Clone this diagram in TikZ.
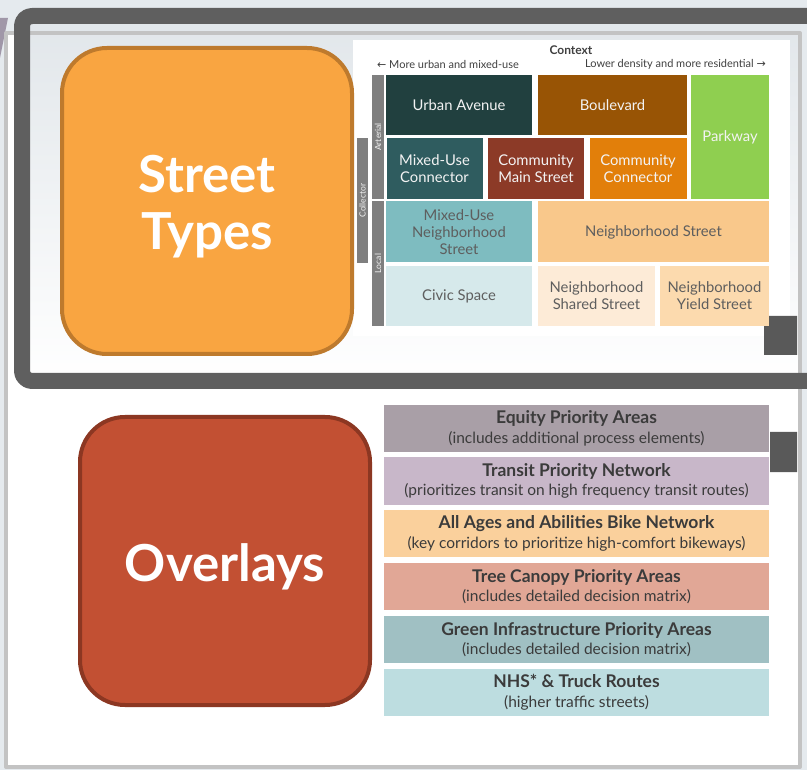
\documentclass[tikz,border=0pt]{standalone}
\usepackage{fontspec}
\setmainfont{Lato}
\newfontfamily\arrowfont{DejaVu Sans}
\usetikzlibrary{positioning}

\definecolor{bgcol}{HTML}{E5EAEE}
\definecolor{topgray}{HTML}{E1E6EA}
\definecolor{framelight}{HTML}{C3C3C3}
\definecolor{framedark}{HTML}{5F5F5F}
\definecolor{squaregray}{HTML}{595959}
\definecolor{decopurple}{HTML}{A097A8}
\definecolor{streetorange}{HTML}{F9A541}
\definecolor{streetedge}{HTML}{BE7A2D}
\definecolor{overlayred}{HTML}{C25033}
\definecolor{overlayedge}{HTML}{8C3722}
\definecolor{bargray}{HTML}{7F7F7F}
\definecolor{headtext}{HTML}{404040}
\definecolor{lighttext}{HTML}{F3F3F3}
\definecolor{darktext}{HTML}{5E5E5E}
\definecolor{overlaytext}{HTML}{3B3B3B}
\definecolor{urbancol}{HTML}{21403F}
\definecolor{boulevardcol}{HTML}{985405}
\definecolor{parkwaycol}{HTML}{8FCF50}
\definecolor{muconncol}{HTML}{2F5C5F}
\definecolor{cmaincol}{HTML}{8C3A27}
\definecolor{cconncol}{HTML}{E27F0A}
\definecolor{muneighcol}{HTML}{7EBCC0}
\definecolor{neighcol}{HTML}{F9C88B}
\definecolor{civiccol}{HTML}{D6E9EB}
\definecolor{sharedcol}{HTML}{FDEBD7}
\definecolor{yieldcol}{HTML}{FCDAAE}
\definecolor{equitycol}{HTML}{A99FA7}
\definecolor{transitcol}{HTML}{C8B7C9}
\definecolor{bikecol}{HTML}{FAD09C}
\definecolor{treecol}{HTML}{E1A796}
\definecolor{greencol}{HTML}{A0C0C3}
\definecolor{nhscol}{HTML}{BDDDE0}

\begin{document}
\begin{tikzpicture}[x=1pt, y=-1pt, line join=round,
  cell/.style={inner sep=0pt, align=center, font=\fontsize{14.8}{17}\selectfont},
  bar/.style={fill=bargray, inner sep=0pt, rotate=90, text=lighttext, font=\fontsize{8.5}{9}\selectfont},
  headline/.style={inner sep=0pt, text=headtext, font=\fontsize{11}{12}\selectfont},
  overlay/.style={minimum width=385pt, minimum height=47.5pt, inner sep=0pt, align=center, text=overlaytext, font=\fontsize{15.5}{19.5}\selectfont},
  bigbox/.style={rounded corners=45pt, line width=4pt, minimum width=290pt},
  bigtext/.style={text=white, align=center, inner sep=0pt, font=\fontsize{51}{57}\selectfont\bfseries}]
\useasboundingbox (0,0) rectangle (807,770);
\fill[bgcol] (0,0) rectangle (807,770);
\fill[decopurple] (0,18) -- (8,18) -- (0,58) -- cycle;
\fill[white] (6,33) rectangle (800,767);
\shade[top color=topgray, bottom color=white] (22,16) rectangle (800,381);
\fill[white] (353,40) rectangle (790,336);
\draw[framelight, line width=4pt] (6,33) rectangle (800,767);
\fill[squaregray] (764,316) rectangle (797,355)
  (770,432) rectangle (797,472);
\draw[framedark, line width=16pt, rounded corners=10pt] (22,16) rectangle (840,381);

% big titles
\node[bigbox, fill=streetorange, draw=streetedge, minimum height=306pt] (street) at (207,201) {};
\node[bigtext] (streettext) at (207,207) {Street\\Types};
\node[bigbox, fill=overlayred, draw=overlayedge, minimum height=288pt] (overlays) at (225,561) {};
\node[bigtext] (overlaystext) at (225,567) {Overlays};

% context header
\node[headline, font=\fontsize{12}{13}\selectfont\bfseries] (context) at (571,50) {Context};
\node[headline, anchor=west] (urban) at (377,64) {{\arrowfont ←} More urban and mixed-use};
\node[headline, anchor=east] (residential) at (766,64) {Lower density and more residential {\arrowfont →}};

% side bars
\node[bar, minimum width=124pt, minimum height=12pt] (arterial) at (378,137) {Arterial};
\node[bar, minimum width=125pt, minimum height=12pt] (local) at (378,263.5) {Local};
\node[bar, minimum width=125pt, minimum height=11pt] (collector) at (362.5,200.5) {Collector};

% street type cells
\node[cell, fill=urbancol, text=lighttext, minimum width=146pt, minimum height=60pt] (urbanave) at (459,105) {Urban Avenue};
\node[cell, fill=boulevardcol, text=lighttext, minimum width=149pt, minimum height=60pt] (boulevard) at (612.5,105) {Boulevard};
\node[cell, fill=parkwaycol, text=lighttext, minimum width=78pt, minimum height=124pt] (parkway) at (730,137) {Parkway};
\node[cell, fill=muconncol, text=lighttext, minimum width=96pt, minimum height=61pt] (muconn) at (434.5,168.5) {Mixed-Use\\Connector};
\node[cell, fill=cmaincol, text=lighttext, minimum width=96pt, minimum height=61pt] (cmain) at (536,168.5) {Community\\Main Street};
\node[cell, fill=cconncol, text=lighttext, minimum width=97pt, minimum height=61pt] (cconn) at (638,168.5) {Community\\Connector};
\node[cell, fill=muneighcol, text=darktext, minimum width=146pt, minimum height=61pt] (muneigh) at (459,232) {Mixed-Use\\Neighborhood\\Street};
\node[cell, fill=neighcol, text=darktext, minimum width=231pt, minimum height=61pt] (neigh) at (653.5,232) {Neighborhood Street};
\node[cell, fill=civiccol, text=darktext, minimum width=146pt, minimum height=60pt] (civic) at (459,296) {Civic Space};
\node[cell, fill=sharedcol, text=darktext, minimum width=117pt, minimum height=60pt] (shared) at (596.5,296) {Neighborhood\\Shared Street};
\node[cell, fill=yieldcol, text=darktext, minimum width=109pt, minimum height=60pt] (yield) at (714.5,296) {Neighborhood\\Yield Street};

% overlay rows
\node[overlay, fill=equitycol] (equity) at (576.5,428.5) {{\fontsize{17.5}{19.5}\selectfont\bfseries Equity Priority Areas}\\(includes additional process elements)};
\node[overlay, fill=transitcol] (transit) at (576.5,481) {{\fontsize{17.5}{19.5}\selectfont\bfseries Transit Priority Network}\\(prioritizes transit on high frequency transit routes)};
\node[overlay, fill=bikecol] (bike) at (576.5,533.5) {{\fontsize{17.5}{19.5}\selectfont\bfseries All Ages and Abilities Bike Network}\\(key corridors to prioritize high-comfort bikeways)};
\node[overlay, fill=treecol] (tree) at (576.5,586.5) {{\fontsize{17.5}{19.5}\selectfont\bfseries Tree Canopy Priority Areas}\\(includes detailed decision matrix)};
\node[overlay, fill=greencol] (green) at (576.5,639.5) {{\fontsize{17.5}{19.5}\selectfont\bfseries Green Infrastructure Priority Areas}\\(includes detailed decision matrix)};
\node[overlay, fill=nhscol] (nhs) at (576.5,692.5) {{\fontsize{17.5}{19.5}\selectfont\bfseries NHS* \& Truck Routes}\\(higher traffic streets)};
\end{tikzpicture}
\end{document}
